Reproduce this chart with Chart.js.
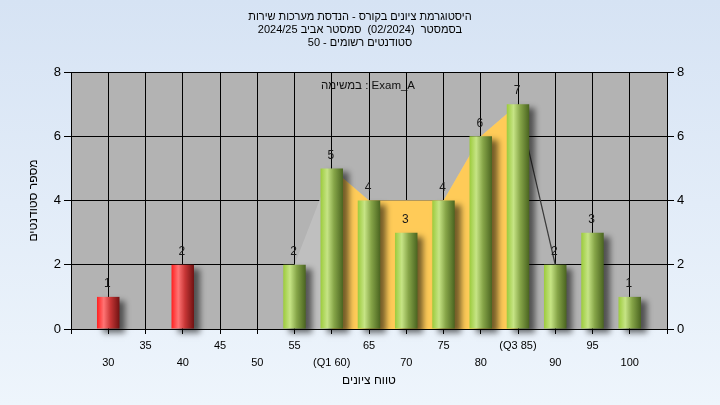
<!DOCTYPE html>
<html>
<head>
<meta charset="utf-8">
<script src="https://cdn.jsdelivr.net/npm/chart.js"></script>
<style>
  html, body { margin: 0; padding: 0; }
  body { width: 720px; height: 405px; background: linear-gradient(#d6e3f4, #eef5fc); }
  #wrap { width: 720px; height: 405px; }
</style>
</head>
<body>
<div id="wrap"><canvas id="chart"></canvas></div>
<script>
// bins (score range) and number of students per bin
const scores = [30, 35, 40, 45, 50, 55, 60, 65, 70, 75, 80, 85, 90, 95, 100];
const counts = [1, 0, 2, 0, 0, 2, 5, 4, 3, 4, 6, 7, 2, 3, 1];
const passMark = 55;

// frequency polygon behind the bars, and the Q1..Q3 band
const polyScores = [55, 60, 65, 70, 75, 80, 85, 90];
const polyValues = [2, 5, 4, 4, 4, 6, 7, 2];
const bandScores = [60, 65, 70, 75, 80, 85];
const bandValues = [5, 4, 4, 4, 6, 7];

const q1 = 60, q3 = 85;
const yTicks = [0, 2, 4, 6, 8];

const titleLines = [
  'היסטוגרמת ציונים בקורס - הנדסת מערכות שירות',
  'בסמסטר  (02/2024)  סמסטר אביב 2024/25',
  'סטודנטים רשומים - 50'
];
const examLabel = 'במשימה : Exam_A';
const xTitle = 'טווח ציונים';
const yTitle = 'מספר סטודנטים';

const FONT = "'Liberation Sans', 'DejaVu Sans', sans-serif";
Chart.defaults.font.family = FONT;
Chart.defaults.color = '#000';

const barData = scores.map((s, i) => ({ x: s, y: counts[i] })).filter(p => p.y > 0);

function tickText(v) {
  if (v < 30 || v > 100) return '';
  let t = String(v);
  if (v === q1) t = '(Q1 ' + v + ')';
  if (v === q3) t = '(Q3 ' + v + ')';
  // staggered: every other label on the second row
  return ((v - 30) / 5) % 2 === 0 ? ['', t] : [t];
}

function barFill(ctx) {
  const chart = ctx.chart;
  const xs = chart.scales.x;
  const p = ctx.raw;
  if (!xs || !p || !chart.chartArea) return '#9dc83e';
  const cx = xs.getPixelForValue(p.x);
  const hw = (xs.getPixelForValue(5) - xs.getPixelForValue(0)) * 0.67 * 0.9 / 2;
  const g = chart.ctx.createLinearGradient(cx - hw, 0, cx + hw, 0);
  if (p.x < passMark) {
    g.addColorStop(0, '#ff2020');
    g.addColorStop(0.3, '#ff7474');
    g.addColorStop(0.6, '#c83636');
    g.addColorStop(1, '#701212');
  } else {
    g.addColorStop(0, '#9ccb3c');
    g.addColorStop(0.3, '#c6e485');
    g.addColorStop(0.6, '#86a548');
    g.addColorStop(1, '#4a6420');
  }
  return g;
}

const plotBg = {
  id: 'plotBg',
  beforeDraw(chart) {
    const { ctx, chartArea: a } = chart;
    ctx.save();
    ctx.fillStyle = '#b3b3b3';
    ctx.fillRect(a.left, a.top, a.right - a.left, a.bottom - a.top);
    ctx.restore();
  },
  beforeDatasetsDraw(chart) {
    const { ctx, chartArea: a } = chart;
    ctx.save();
    ctx.font = '11.5px ' + FONT;
    ctx.fillStyle = '#111';
    ctx.textAlign = 'center';
    ctx.textBaseline = 'middle';
    ctx.direction = 'ltr';
    ctx.fillText(examLabel, (a.left + a.right) / 2 - 1, a.top + 14);
    ctx.restore();
  }
};

const barShadow = {
  id: 'barShadow',
  beforeDatasetDraw(chart, args) {
    if (args.index !== 0) return;
    const ctx = chart.ctx;
    ctx.save();
    ctx.shadowColor = 'rgba(0,0,0,0.55)';
    ctx.shadowBlur = 6;
    ctx.shadowOffsetX = 6;
    ctx.shadowOffsetY = 4;
  },
  afterDatasetDraw(chart, args) {
    if (args.index !== 0) return;
    chart.ctx.restore();
  }
};

const valueLabels = {
  id: 'valueLabels',
  afterDatasetsDraw(chart) {
    const ctx = chart.ctx;
    const meta = chart.getDatasetMeta(0);
    ctx.save();
    ctx.font = '12px ' + FONT;
    ctx.fillStyle = '#1a1a1a';
    ctx.textAlign = 'center';
    ctx.textBaseline = 'bottom';
    meta.data.forEach((el, i) => {
      ctx.fillText(String(barData[i].y), el.x - 1, el.y - 7);
    });
    ctx.restore();
  }
};

new Chart(document.getElementById('chart'), {
  type: 'bar',
  data: {
    datasets: [
      {
        type: 'bar',
        data: barData,
        backgroundColor: barFill,
        borderWidth: 0,
        categoryPercentage: 0.67,
        barPercentage: 0.9,
        clip: false,
        order: 0
      },
      {
        type: 'line',
        data: bandScores.map((s, i) => ({ x: s, y: bandValues[i] })),
        backgroundColor: '#ffcb58',
        borderWidth: 0,
        pointRadius: 0,
        fill: 'origin',
        order: 1
      },
      {
        type: 'line',
        data: polyScores.map((s, i) => ({ x: s, y: polyValues[i] })),
        backgroundColor: '#bfbfbf',
        borderWidth: 1.2,
        borderColor: 'rgba(0,0,0,0)',
        segment: {
          borderColor: c => c.p0.parsed.x >= q3 ? '#3a3a3a' : 'rgba(0,0,0,0)',
          backgroundColor: c => c.p0.parsed.x >= q3 ? 'rgba(0,0,0,0)' : '#bfbfbf'
        },
        pointRadius: 0,
        fill: 'origin',
        order: 2
      }
    ]
  },
  options: {
    responsive: true,
    maintainAspectRatio: false,
    animation: false,
    layout: { padding: 0 },
    plugins: {
      legend: { display: false },
      tooltip: { enabled: false },
      title: {
        display: true,
        text: titleLines,
        color: '#000',
        font: { size: 11, weight: 'normal', lineHeight: 13 / 11 },
        padding: { top: 10, bottom: 23 }
      }
    },
    scales: {
      x: {
        type: 'linear',
        min: 25,
        max: 105,
        offset: false,
        afterFit: s => { s.height = 76; },
        afterBuildTicks: s => { s.ticks = []; for (let v = 25; v <= 105; v += 5) s.ticks.push({ value: v }); },
        ticks: {
          autoSkip: false,
          maxRotation: 0,
          padding: 3,
          color: '#000',
          font: { size: 11, lineHeight: 17 / 11 },
          callback: v => tickText(v)
        },
        grid: { offset: false, color: '#000', lineWidth: 1, tickLength: 5, tickColor: '#000' },
        border: { color: '#000', width: 1 },
        title: {
          display: true,
          text: xTitle,
          color: '#000',
          font: { size: 12 },
          padding: { top: 0, bottom: 17 }
        }
      },
      y: {
        position: 'left',
        min: 0,
        max: 8,
        afterFit: s => { s.width = 71; },
        afterBuildTicks: s => { s.ticks = yTicks.map(v => ({ value: v })); },
        ticks: { padding: 3, color: '#000', font: { size: 13 } },
        grid: { color: '#000', lineWidth: 1, tickLength: 7, tickColor: '#000' },
        border: { color: '#000', width: 1 },
        title: {
          display: true,
          text: yTitle,
          color: '#000',
          font: { size: 12 },
          padding: { top: 26, bottom: 0 }
        }
      },
      y2: {
        position: 'right',
        min: 0,
        max: 8,
        afterFit: s => { s.width = 53; },
        afterBuildTicks: s => { s.ticks = yTicks.map(v => ({ value: v })); },
        ticks: { padding: 3, color: '#000', font: { size: 13 } },
        grid: { drawOnChartArea: false, tickLength: 7, tickColor: '#000' },
        border: { color: '#000', width: 1 }
      }
    }
  },
  plugins: [plotBg, barShadow, valueLabels]
});
</script>
</body>
</html>
